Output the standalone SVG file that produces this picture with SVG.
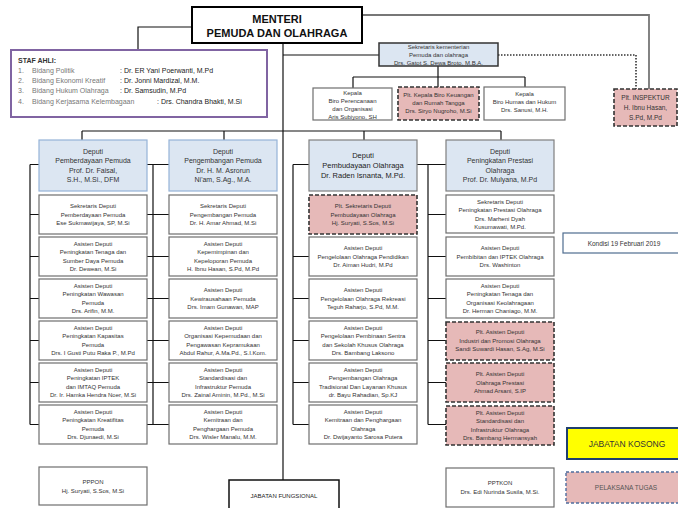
<svg xmlns="http://www.w3.org/2000/svg" width="678" height="508" viewBox="0 0 678 508">
<style>
text{font-family:"Liberation Sans",Arial,sans-serif;fill:#333;text-anchor:middle;font-size:6px}
.box{fill:#fff;stroke:#6e6e6e;stroke-width:1.2}
.dep{fill:#dce6f2;stroke:#95b3d7;stroke-width:1.2}
.dep2{fill:#dce6f2;stroke:#7f7f7f;stroke-width:1.2}
.plt{fill:#e6b9b8;stroke:#333;stroke-width:1.6;stroke-dasharray:4 2}
.ln{stroke:#111;stroke-width:1.2;fill:none}
.dt{font-size:7px}
</style>
<g id="connectors">
<path class="ln" d="M192,27H138V50"/>
<path class="ln" d="M362,15H649V89" stroke="#777" style="stroke:#777;stroke-width:1.8"/>
<path class="ln" d="M283,43V480"/>
<path class="ln" d="M283,55H379"/>
<path class="ln" d="M498,55H636V89" style="stroke:#333;stroke-width:1.6;stroke-dasharray:1.5 1.5"/>
<path class="ln" d="M438,66V77M353,77H525M353,77V88M438,77V87M525,77V87"/>
<path class="ln" d="M82,131H501M82,131V140M224,131V140M364,131V140M501,131V140"/>
<path class="ln" d="M30,164.5V424.5M30,164.5H39M30,214.5H39M30,256.5H39M30,298.5H39M30,340.5H39M30,382.5H39M30,424.5H39"/>
<path class="ln" d="M153,164.5V424.5M147,164.5H169M147,214.5H169M147,256.5H169M147,298.5H169M147,340.5H169M147,382.5H169M147,424.5H169"/>
<path class="ln" d="M293,164.5V424.5M293,164.5H309M293,256.5H309M293,298.5H309M293,340.5H309M293,382.5H309M293,424.5H309"/>
<path class="ln" d="M428,164.5V424.5M417,164.5H446M428,214.5H446M428,256.5H446M428,298.5H446M428,340.5H446M428,382.5H446M428,424.5H446"/>
</g>
<g id="menteri">
<rect x="192" y="7" width="170" height="36" fill="#fff" stroke="#000" stroke-width="2"/>
<text x="277" y="23" style="font-size:11px;font-weight:bold;fill:#111">MENTERI</text>
<text x="277" y="37" style="font-size:11px;font-weight:bold;fill:#111">PEMUDA DAN OLAHRAGA</text>
</g>
<g id="staf-ahli">
<rect x="11" y="50" width="256" height="67" fill="#fff" stroke="#8064a2" stroke-width="2"/>
<g style="text-anchor:start;font-size:7px">
<text x="18" y="63" style="text-anchor:start;font-size:7px;font-weight:bold;fill:#333">STAF AHLI:</text>
<text x="18" y="73" style="text-anchor:start;font-size:7px;fill:#777">1.<tspan x="32">Bidang  Politik</tspan><tspan x="120" style="fill:#222">: Dr. ER Yani Poerwanti, M.Pd</tspan></text>
<text x="18" y="83" style="text-anchor:start;font-size:7px;fill:#777">2.<tspan x="32">Bidang  Ekonomi Kreatif</tspan><tspan x="120" style="fill:#222">: Dr. Jonni Mardizal, M.M.</tspan></text>
<text x="18" y="93" style="text-anchor:start;font-size:7px;fill:#777">3.<tspan x="32">Bidang  Hukum Olahraga</tspan><tspan x="120" style="fill:#222">: Dr. Samsudin, M.Pd</tspan></text>
<text x="18" y="104" style="text-anchor:start;font-size:7px;fill:#777">4.<tspan x="32">Bidang  Kerjasama Kelembagaan</tspan><tspan x="157" style="fill:#222">: Drs. Chandra Bhakti, M.Si</tspan></text>
</g>
</g>
<g id="sekretaris">
<rect x="379" y="43" width="119" height="23" fill="#dce6f2" stroke="#333" stroke-width="1.5"/>
<text x="438.5" y="48.5">Sekretaris kementerian</text>
<text x="438.5" y="56.5">Pemuda dan olahraga</text>
<text x="438.5" y="64.5">Drs. Gatot S. Dewa Broto, M.B.A.</text>
</g>
<g id="inspektur">
<rect x="614" y="89" width="63" height="37" class="plt"/>
<text x="645.5" y="100" style="font-size:6.5px">Plt. INSPEKTUR</text>
<text x="645.5" y="110" style="font-size:6.5px">H. Ibnu Hasan,</text>
<text x="645.5" y="119.5" style="font-size:6.5px">S.Pd, M.Pd</text>
</g>
<g id="biro-perencanaan">
<rect x="313" y="88" width="79" height="32" class="box"/>
<text x="352.5" y="94.5">Kepala</text>
<text x="352.5" y="103">Biro Perencanaan</text>
<text x="352.5" y="111.2">dan Organisasi</text>
<text x="352.5" y="119">Aris Subiyono, SH</text>
</g>
<g id="biro-keuangan">
<rect x="398" y="87" width="81" height="33" class="plt"/>
<text x="438.5" y="97">Plt. Kepala Biro Keuangan</text>
<text x="438.5" y="105">dan Rumah Tangga</text>
<text x="438.5" y="113">Drs. Siryo Nugroho, M.Si</text>
</g>
<g id="biro-humas">
<rect x="484" y="87" width="81" height="33" class="box"/>
<text x="524.5" y="96">Kepala</text>
<text x="524.5" y="104">Biro Humas dan Hukum</text>
<text x="524.5" y="112">Drs. Sanusi, M.H.</text>
</g>
<g id="deputi-1">
<rect x="39" y="140" width="108" height="51" class="dep"/>
<text class="dt" x="93" y="153.5">Deputi</text>
<text class="dt" x="93" y="163">Pemberdayaan Pemuda</text>
<text class="dt" x="93" y="172.5">Prof. Dr. Faisal,</text>
<text class="dt" x="93" y="182">S.H., M.Si., DFM</text>
</g>
<g id="deputi-2">
<rect x="169" y="140" width="108" height="51" class="dep"/>
<text class="dt" x="223" y="153.5">Deputi</text>
<text class="dt" x="223" y="163">Pengembangan Pemuda</text>
<text class="dt" x="223" y="172.5">Dr. H. M. Asrorun</text>
<text class="dt" x="223" y="182">Ni'am, S.Ag., M.A.</text>
</g>
<g id="deputi-3">
<rect x="309" y="140" width="108" height="51" class="dep2"/>
<text x="363" y="158" style="font-size:7.5px;fill:#222">Deputi</text>
<text x="363" y="168" style="font-size:7.5px;fill:#222">Pembudayaan Olahraga</text>
<text x="363" y="178" style="font-size:7.5px;fill:#222">Dr. Raden Isnanta, M.Pd.</text>
</g>
<g id="deputi-4">
<rect x="446" y="140" width="108" height="51" class="dep2"/>
<text class="dt" x="500" y="153.5">Deputi</text>
<text class="dt" x="500" y="163">Peningkatan Prestasi</text>
<text class="dt" x="500" y="172.5">Olahraga</text>
<text class="dt" x="500" y="182">Prof. Dr. Mulyana, M.Pd</text>
</g>
<!-- Column 1 -->
<g id="c1-1"><rect x="39" y="195" width="108" height="39" class="box"/>
<text x="93" y="208.3">Sekretaris Deputi</text><text x="93" y="216.5">Pemberdayaan Pemuda</text><text x="93" y="224.7">Ese Sukmawijaya, SP, M.Si</text></g>
<g id="c1-2"><rect x="39" y="237" width="108" height="39" class="box"/>
<text x="93" y="246.2">Asisten Deputi</text><text x="93" y="254.4">Peningkatan Tenaga dan</text><text x="93" y="262.6">Sumber Daya Pemuda</text><text x="93" y="270.8">Dr. Dewean, M.Si</text></g>
<g id="c1-3"><rect x="39" y="279" width="108" height="39" class="box"/>
<text x="93" y="288.2">Asisten Deputi</text><text x="93" y="296.4">Peningkatan Wawasan</text><text x="93" y="304.6">Pemuda</text><text x="93" y="312.8">Drs. Arifin, M.M.</text></g>
<g id="c1-4"><rect x="39" y="321" width="108" height="39" class="box"/>
<text x="93" y="330.2">Asisten Deputi</text><text x="93" y="338.4">Peningkatan Kapasitas</text><text x="93" y="346.6">Pemuda</text><text x="93" y="354.8">Drs. I Gusti Putu Raka P., M.Pd</text></g>
<g id="c1-5"><rect x="39" y="363" width="108" height="39" class="box"/>
<text x="93" y="372.2">Asisten Deputi</text><text x="93" y="380.4">Peningkatan IPTEK</text><text x="93" y="388.6">dan IMTAQ Pemuda</text><text x="93" y="396.8">Dr. Ir. Hamka Hendra Noer, M.Si</text></g>
<g id="c1-6"><rect x="39" y="405" width="108" height="39" class="box"/>
<text x="93" y="414.2">Asisten Deputi</text><text x="93" y="422.4">Peningkatan Kreatifitas</text><text x="93" y="430.6">Pemuda</text><text x="93" y="438.8">Drs. Djunaedi, M.Si</text></g>
<g id="pppon"><rect x="39" y="467" width="108" height="38" class="box"/>
<text x="93" y="484">PPPON</text><text x="93" y="493">Hj. Suryati, S.Sos, M.Si</text></g>
<!-- Column 2 -->
<g id="c2-1"><rect x="169" y="195" width="108" height="39" class="box"/>
<text x="223" y="208.3">Sekretaris Deputi</text><text x="223" y="216.5">Pengembangan Pemuda</text><text x="223" y="224.7">Dr. H. Amar Ahmad, M.Si</text></g>
<g id="c2-2"><rect x="169" y="237" width="108" height="39" class="box"/>
<text x="223" y="246.2">Asisten Deputi</text><text x="223" y="254.4">Kepemimpinan  dan</text><text x="223" y="262.6">Kepeloporan Pemuda</text><text x="223" y="270.8">H. Ibnu Hasan, S.Pd, M.Pd</text></g>
<g id="c2-3"><rect x="169" y="279" width="108" height="39" class="box"/>
<text x="223" y="292.3">Asisten Deputi</text><text x="223" y="300.5">Kewirausahaan Pemuda</text><text x="223" y="308.7">Drs. Imam Gunawan, MAP</text></g>
<g id="c2-4"><rect x="169" y="321" width="108" height="39" class="box"/>
<text x="223" y="330.2">Asisten Deputi</text><text x="223" y="338.4">Organisasi Kepemudaan dan</text><text x="223" y="346.6">Pengawasan Kepramukaan</text><text x="223" y="354.8">Abdul Rahur, A.Ma.Pd., S.I.Kom.</text></g>
<g id="c2-5"><rect x="169" y="363" width="108" height="39" class="box"/>
<text x="223" y="372.2">Asisten Deputi</text><text x="223" y="380.4">Standardisasi dan</text><text x="223" y="388.6">Infrastruktur Pemuda</text><text x="223" y="396.8">Drs. Zainal Aminin, M.Pd., M.Si</text></g>
<g id="c2-6"><rect x="169" y="405" width="108" height="39" class="box"/>
<text x="223" y="414.2">Asisten Deputi</text><text x="223" y="422.4">Kemitraan dan</text><text x="223" y="430.6">Penghargaan Pemuda</text><text x="223" y="438.8">Drs. Wisler Manalu, M.M.</text></g>
<!-- Column 3 -->
<g id="c3-1"><rect x="309" y="195" width="108" height="39" class="plt"/>
<text x="363" y="208.3">Plt. Sekretaris Deputi</text><text x="363" y="216.5">Pembudayaan Olahraga</text><text x="363" y="224.7">Hj. Suryati, S.Sos, M.Si</text></g>
<g id="c3-2"><rect x="309" y="237" width="108" height="39" class="box"/>
<text x="363" y="250.3">Asisten Deputi</text><text x="363" y="258.5">Pengelolaan Olahraga Pendidikan</text><text x="363" y="266.7">Dr. Aiman Hudri, M.Pd</text></g>
<g id="c3-3"><rect x="309" y="279" width="108" height="39" class="box"/>
<text x="363" y="292.3">Asisten Deputi</text><text x="363" y="300.5">Pengelolaan Olahraga Rekreasi</text><text x="363" y="308.7">Teguh Raharjo, S.Pd, M.M.</text></g>
<g id="c3-4"><rect x="309" y="321" width="108" height="39" class="box"/>
<text x="363" y="330.2">Asisten Deputi</text><text x="363" y="338.4">Pengelolaan Pembinaan Sentra</text><text x="363" y="346.6">dan Sekolah Khusus Olahraga</text><text x="363" y="354.8">Drs. Bambang Laksono</text></g>
<g id="c3-5"><rect x="309" y="363" width="108" height="39" class="box"/>
<text x="363" y="372.2">Asisten Deputi</text><text x="363" y="380.4">Pengembangan Olahraga</text><text x="363" y="388.6">Tradisional Dan Layanan Khusus</text><text x="363" y="396.8">dr. Bayu Rahadian, Sp.KJ</text></g>
<g id="c3-6"><rect x="309" y="405" width="108" height="39" class="box"/>
<text x="363" y="414.2">Asisten Deputi</text><text x="363" y="422.4">Kemitraan dan Penghargaan</text><text x="363" y="430.6">Olahraga</text><text x="363" y="438.8">Dr. Dwijayanto Sarosa Putera</text></g>
<!-- Column 4 -->
<g id="c4-1"><rect x="446" y="195" width="108" height="38" class="box"/>
<text x="500" y="204.2">Sekretaris Deputi</text><text x="500" y="212.4">Peningkatan Prestasi Olahraga</text><text x="500" y="220.6">Drs. Marheni Dyah</text><text x="500" y="228.8">Kusumawati, M.Pd.</text></g>
<g id="c4-2"><rect x="446" y="237" width="108" height="39" class="box"/>
<text x="500" y="250.3">Asisten Deputi</text><text x="500" y="258.5">Pembibitan dan IPTEK Olahraga</text><text x="500" y="266.7">Drs. Washinton</text></g>
<g id="c4-3"><rect x="446" y="279" width="108" height="39" class="box"/>
<text x="500" y="288.2">Asisten Deputi</text><text x="500" y="296.4">Peningkatan Tenaga dan</text><text x="500" y="304.6">Organisasi Keolahragaan</text><text x="500" y="312.8">Dr. Herman Chaniago, M.M.</text></g>
<g id="c4-4"><rect x="446" y="322" width="108" height="38" class="plt"/>
<text x="500" y="334.3">Plt. Asisten Deputi</text><text x="500" y="342.5">Industri dan Promosi Olahraga</text><text x="500" y="350.7">Sandi Suwardi Hasan, S.Ag, M.Si</text></g>
<g id="c4-5"><rect x="446" y="363" width="108" height="39" class="plt"/>
<text x="500" y="376.3">Plt. Asisten Deputi</text><text x="500" y="384.5">Olahraga Prestasi</text><text x="500" y="392.7">Ahmad Arsani, S.IP</text></g>
<g id="c4-6"><rect x="446" y="406" width="108" height="39" class="plt"/>
<text x="500" y="415.2">Plt. Asisten Deputi</text><text x="500" y="423.4">Standardisasi dan</text><text x="500" y="431.6">Infrastruktur Olahraga</text><text x="500" y="439.8">Drs. Bambang Hermansyah</text></g>
<g id="pptkon"><rect x="446" y="468" width="108" height="39" class="box"/>
<text x="500" y="485">PPTKON</text><text x="500" y="494">Drs. Edi Nurinda Susila, M.Si.</text></g>
<g id="jabatan-fungsional">
<rect x="229" y="480" width="110" height="40" fill="#fff" stroke="#111" stroke-width="1.5"/>
<text x="284" y="498" style="font-size:6px;fill:#222">JABATAN FUNGSIONAL</text>
</g>
<g id="kondisi">
<rect x="563" y="233" width="118" height="20" fill="#fff" stroke="#4f6d8f" stroke-width="1.2"/>
<text x="624" y="245.5" style="font-size:6.5px">Kondisi 19 Februari 2019</text>
</g>
<g id="legend-kosong">
<rect x="567" y="428" width="115" height="31" fill="#ffff00" stroke="#1f3f6f" stroke-width="2"/>
<text x="627" y="447" style="font-size:8.5px;fill:#333">JABATAN KOSONG</text>
</g>
<g id="legend-plt">
<rect x="566" y="472" width="116" height="31" fill="#e6b9b8" stroke="#4f6d9f" stroke-width="1.4" stroke-dasharray="3 2"/>
<text x="626" y="490" style="font-size:6.5px;fill:#555">PELAKSANA TUGAS</text>
</g>
</svg>
